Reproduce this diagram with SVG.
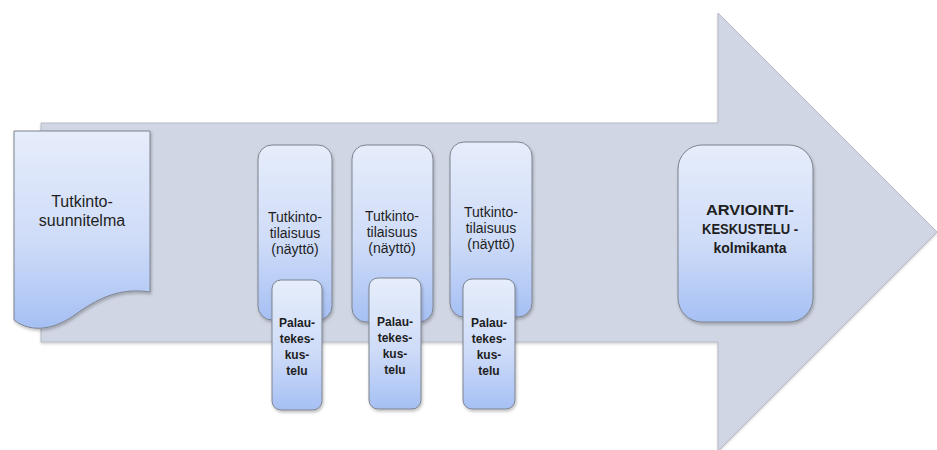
<svg xmlns="http://www.w3.org/2000/svg" width="937" height="450" viewBox="0 0 937 450">
  <defs>
    <linearGradient id="boxFill" x1="0" y1="0" x2="0" y2="1">
      <stop offset="0" stop-color="#e6edfb"/>
      <stop offset="0.55" stop-color="#cfdcf8"/>
      <stop offset="1" stop-color="#a6c0f4"/>
    </linearGradient>
    <filter id="shadow" x="-20%" y="-20%" width="140%" height="140%">
      <feDropShadow dx="1" dy="2" stdDeviation="1.5" flood-color="#000" flood-opacity="0.25"/>
    </filter>
    <filter id="arrowShadow" x="-5%" y="-5%" width="110%" height="110%">
      <feDropShadow dx="0" dy="1.5" stdDeviation="1" flood-color="#000" flood-opacity="0.18"/>
    </filter>
  </defs>
  <style>
    .arrow { fill: #d0d6e3; stroke: #b3b9c6; stroke-width: 1; }
    .box { fill: url(#boxFill); stroke: #7d838e; stroke-width: 1; filter: url(#shadow); }
    .txt { font-family: "Liberation Sans", Arial, sans-serif; fill: #1e1e1e; text-anchor: middle; }
    .big { font-size: 16px; }
    .mid { font-size: 14px; }
    .small { font-size: 12px; font-weight: bold; }
    .bold14 { font-size: 14px; font-weight: bold; }
  </style>

  <rect width="937" height="450" fill="#ffffff"/>

  <!-- process arrow in the background -->
  <g id="process-arrow">
    <path class="arrow" filter="url(#arrowShadow)" d="M41,123 H718 V13 L937,232 L718,451 V342 H41 Z"/>
  </g>

  <!-- document: plan -->
  <g id="plan">
    <path class="box" d="M14,131 H150 V292 C118,287 96,300 76,314 C56,329 32,334 14,320 Z"/>
    <text class="txt big" x="82" y="207">Tutkinto-</text>
    <text class="txt big" x="82" y="226">suunnitelma</text>
  </g>

  <!-- examination sessions -->
  <g id="session-1">
    <rect class="box" x="258" y="145" width="74" height="175" rx="14"/>
    <text class="txt mid" x="295" y="222">Tutkinto-</text>
    <text class="txt mid" x="295" y="238">tilaisuus</text>
    <text class="txt mid" x="295" y="254">(näyttö)</text>
  </g>
  <g id="session-2">
    <rect class="box" x="352" y="145" width="81" height="177" rx="14"/>
    <text class="txt mid" x="392" y="221">Tutkinto-</text>
    <text class="txt mid" x="392" y="237">tilaisuus</text>
    <text class="txt mid" x="392" y="253">(näyttö)</text>
  </g>
  <g id="session-3">
    <rect class="box" x="450" y="142" width="82" height="175" rx="14"/>
    <text class="txt mid" x="491" y="217">Tutkinto-</text>
    <text class="txt mid" x="491" y="233">tilaisuus</text>
    <text class="txt mid" x="491" y="249">(näyttö)</text>
  </g>

  <!-- feedback discussions -->
  <g id="feedback-1">
    <rect class="box" x="272" y="280" width="50" height="130" rx="9"/>
    <text class="txt small" x="297" y="327">Palau-</text>
    <text class="txt small" x="297" y="343">tekes-</text>
    <text class="txt small" x="297" y="359">kus-</text>
    <text class="txt small" x="297" y="375">telu</text>
  </g>
  <g id="feedback-2">
    <rect class="box" x="369" y="278" width="52" height="131" rx="9"/>
    <text class="txt small" x="395" y="326">Palau-</text>
    <text class="txt small" x="395" y="342">tekes-</text>
    <text class="txt small" x="395" y="358">kus-</text>
    <text class="txt small" x="395" y="374">telu</text>
  </g>
  <g id="feedback-3">
    <rect class="box" x="463" y="279" width="52" height="130" rx="9"/>
    <text class="txt small" x="489" y="327">Palau-</text>
    <text class="txt small" x="489" y="343">tekes-</text>
    <text class="txt small" x="489" y="359">kus-</text>
    <text class="txt small" x="489" y="375">telu</text>
  </g>

  <!-- final assessment discussion -->
  <g id="assessment">
    <rect class="box" x="678" y="145" width="135" height="177" rx="24"/>
    <text class="txt bold14" x="750" y="215" textLength="88" lengthAdjust="spacingAndGlyphs">ARVIOINTI-</text>
    <text class="txt bold14" x="750" y="234" textLength="96" lengthAdjust="spacingAndGlyphs">KESKUSTELU -</text>
    <text class="txt bold14" x="750" y="253">kolmikanta</text>
  </g>

  <g id="connectors"></g>
</svg>
